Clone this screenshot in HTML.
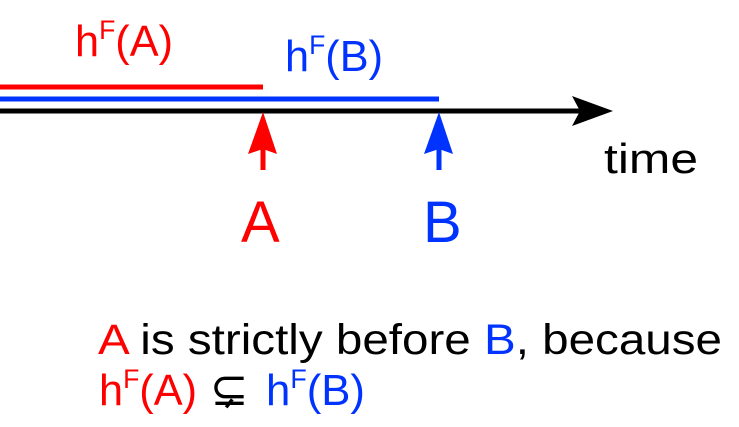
<!DOCTYPE html>
<html><head><meta charset="utf-8"><style>
html,body{margin:0;padding:0;background:#fff;}
svg{display:block;}
text{font-family:"Liberation Sans","DejaVu Sans",sans-serif;}
</style></head><body>
<svg width="739" height="427" viewBox="0 0 739 427" xmlns="http://www.w3.org/2000/svg">
<rect width="739" height="427" fill="#fff"/>
<line x1="0" y1="87" x2="263" y2="87" stroke="#ff0000" stroke-width="5"/>
<line x1="0" y1="99" x2="439" y2="99" stroke="#0033ff" stroke-width="5"/>
<line x1="0" y1="111" x2="585" y2="111" stroke="#000" stroke-width="5"/>
<path d="M572,96 L613,111 L572,126 L580,111 Z" fill="#000"/>
<line x1="263" y1="140" x2="263" y2="170" stroke="#ff0000" stroke-width="5"/>
<path d="M263,112 L277,154 L263,149 L248,154 Z" fill="#ff0000"/>
<line x1="439" y1="140" x2="439" y2="170" stroke="#0033ff" stroke-width="5"/>
<path d="M439,112 L453,154 L439,149 L424,154 Z" fill="#0033ff"/>
<text x="75" y="56" font-size="44" fill="#ff0000" textLength="98" lengthAdjust="spacingAndGlyphs">h<tspan font-size="27" dy="-17">F</tspan><tspan dy="17">(A)</tspan></text>
<text x="285" y="71" font-size="44" fill="#0033ff" textLength="98" lengthAdjust="spacingAndGlyphs">h<tspan font-size="27" dy="-17">F</tspan><tspan dy="17">(B)</tspan></text>
<text x="604" y="173" font-size="42" fill="#000" textLength="94" lengthAdjust="spacingAndGlyphs">time</text>
<text x="241" y="242" font-size="58" fill="#ff0000">A</text>
<text x="423" y="242" font-size="58" fill="#0033ff">B</text>
<text x="98" y="354" font-size="43" fill="#000" textLength="624" lengthAdjust="spacingAndGlyphs"><tspan fill="#ff0000">A</tspan> is strictly before <tspan fill="#0033ff">B</tspan>, because</text>
<text x="99" y="405" font-size="44" fill="#ff0000" textLength="98" lengthAdjust="spacingAndGlyphs">h<tspan font-size="27" dy="-17">F</tspan><tspan dy="17">(A)</tspan></text>
<text x="210" y="405" font-size="46" fill="#000" font-family="DejaVu Sans">⊊</text>
<text x="266" y="405" font-size="44" fill="#0033ff" textLength="99" lengthAdjust="spacingAndGlyphs">h<tspan font-size="27" dy="-17">F</tspan><tspan dy="17">(B)</tspan></text>
</svg>
</body></html>
